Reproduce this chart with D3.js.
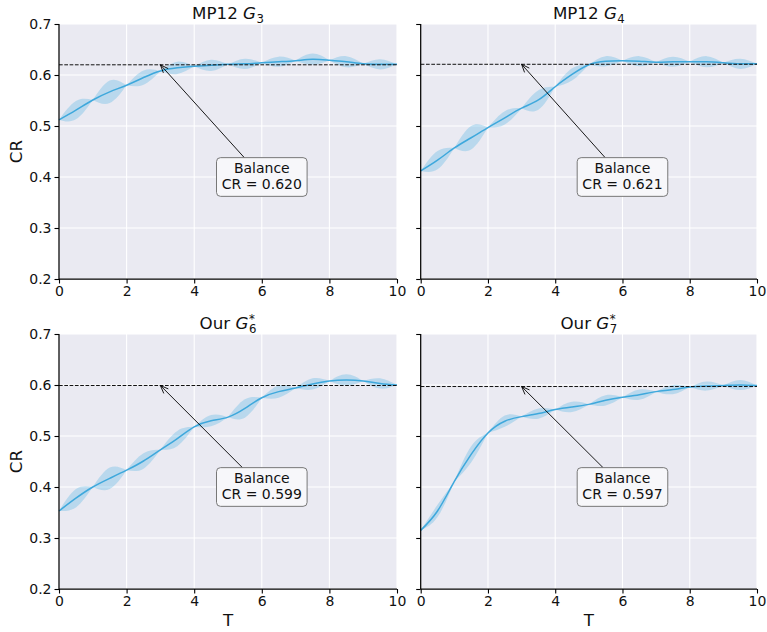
<!DOCTYPE html>
<html>
<head>
<meta charset="utf-8">
<script src="https://cdn.jsdelivr.net/npm/d3@7"></script>
<style>
  body { margin: 0; background: #ffffff; }
  svg { display: block; font-family: "DejaVu Sans", sans-serif; }
</style>
</head>
<body>
<script>
// Sample times (integer steps and half steps)
const T = [0, 0.5, 1, 1.5, 2, 2.5, 3, 3.5, 4, 4.5, 5, 5.5, 6, 6.5, 7, 7.5, 8, 8.5, 9, 9.5, 10];

// Mean CR per model at each sample time
const meanG3 = [0.512, 0.531, 0.551, 0.567, 0.580, 0.595, 0.608, 0.614, 0.617, 0.619, 0.621, 0.622, 0.624, 0.626, 0.628, 0.631, 0.629, 0.626, 0.622, 0.621, 0.621];
const meanG4 = [0.412, 0.433, 0.457, 0.477, 0.497, 0.516, 0.535, 0.551, 0.577, 0.601, 0.620, 0.627, 0.628, 0.627, 0.625, 0.626, 0.626, 0.626, 0.624, 0.622, 0.622];
const meanG6 = [0.353, 0.378, 0.400, 0.417, 0.433, 0.451, 0.473, 0.495, 0.518, 0.530, 0.537, 0.554, 0.575, 0.587, 0.594, 0.602, 0.608, 0.610, 0.608, 0.603, 0.600];
const meanG7 = [0.315, 0.353, 0.411, 0.464, 0.506, 0.529, 0.538, 0.544, 0.552, 0.557, 0.562, 0.570, 0.576, 0.581, 0.587, 0.591, 0.596, 0.598, 0.599, 0.600, 0.599];

// Half-width of the spread band in the middle of each unit step
const spreadG3 = [0.018, 0.022, 0.014, 0.012, 0.011, 0.010, 0.010, 0.011, 0.011, 0.010];
const spreadG4 = [0.018, 0.023, 0.013, 0.019, 0.012, 0.010, 0.010, 0.010, 0.011, 0.010];
const spreadG6 = [0.018, 0.021, 0.015, 0.015, 0.011, 0.018, 0.012, 0.011, 0.011, 0.010];
const spreadG7 = [0.012, 0.016, 0.011, 0.010, 0.010, 0.010, 0.010, 0.009, 0.009, 0.010];

// Balance level per model
const balance = [0.620, 0.621, 0.599, 0.597];

// Panel titles: prefix, italic symbol, superscript, subscript
const titlePrefix = ["MP12 ", "MP12 ", "Our ", "Our "];
const titleSymbol = ["G", "G", "G", "G"];
const titleSup = ["", "", "*", "*"];
const titleSub = ["3", "4", "6", "7"];

// Axis ticks
const xTicks = [0, 2, 4, 6, 8, 10];
const yTicks = [0.2, 0.3, 0.4, 0.5, 0.6, 0.7];

// Annotation placement (data coordinates)
const arrowTipT = 3;
const labelT = 6;
const labelCR = 0.40;

const means = [meanG3, meanG4, meanG6, meanG7];
const spreads = [spreadG3, spreadG4, spreadG6, spreadG7];

const W = 767, H = 632;
const svg = d3.select("body").append("svg").attr("width", W).attr("height", H);

const lineColor = "#3ea8dc";
const bandColor = "#4ab0e0";
const bg = "#eaeaf2";

const cols = [[59, 397], [420.7, 757]];
const rows = [[24, 279], [334, 589]];

for (let p = 0; p < 4; p++) {
  const col = p % 2, row = Math.floor(p / 2);
  const [x0, x1] = cols[col];
  const [y0, y1] = rows[row];
  const x = d3.scaleLinear().domain([0, 10]).range([x0, x1]);
  const y = d3.scaleLinear().domain([0.2, 0.7]).range([y1, y0]);
  const g = svg.append("g");

  // background
  g.append("rect").attr("x", x0).attr("y", y0).attr("width", x1 - x0).attr("height", y1 - y0).attr("fill", bg);

  // grid
  g.append("g").selectAll("line").data(xTicks).join("line")
    .attr("x1", d => x(d)).attr("x2", d => x(d)).attr("y1", y0).attr("y2", y1)
    .attr("stroke", "#fff").attr("stroke-width", 1.1);
  g.append("g").selectAll("line").data(yTicks).join("line")
    .attr("x1", x0).attr("x2", x1).attr("y1", d => y(d)).attr("y2", d => y(d))
    .attr("stroke", "#fff").attr("stroke-width", 1.1);

  const mean = means[p], spread = spreads[p];
  const pts = T.map((t, i) => ({ t, m: mean[i] }));

  // spread band, one lens per unit step
  const band = d3.area()
    .x(d => x(d.t))
    .y0(d => y(d.m - d.h))
    .y1(d => y(d.m + d.h))
    .curve(d3.curveNatural);
  const segs = spread.map((h, k) => [
    { t: T[2 * k], m: mean[2 * k], h: 0 },
    { t: T[2 * k + 1], m: mean[2 * k + 1], h: h },
    { t: T[2 * k + 2], m: mean[2 * k + 2], h: 0 }
  ]);
  g.append("g").selectAll("path").data(segs).join("path")
    .attr("d", band).attr("fill", bandColor).attr("fill-opacity", 0.3);

  // mean line
  g.append("path").datum(pts)
    .attr("d", d3.line().x(d => x(d.t)).y(d => y(d.m)).curve(d3.curveNatural))
    .attr("fill", "none").attr("stroke", lineColor).attr("stroke-width", 1.5);

  // balance reference
  g.append("line").attr("x1", x0).attr("x2", x1)
    .attr("y1", y(balance[p])).attr("y2", y(balance[p]))
    .attr("stroke", "#111").attr("stroke-width", 1).attr("stroke-dasharray", "3.7,1.6");

  // axes
  const xAxis = d3.axisBottom(x).tickValues(xTicks).tickSize(4.5).tickPadding(3).tickFormat(d3.format("d"));
  const ax = g.append("g").attr("transform", `translate(0,${y1})`).call(xAxis);
  const yAxis = d3.axisLeft(y).tickValues(yTicks).tickSize(4.5).tickPadding(3)
    .tickFormat(col === 0 ? d3.format(".1f") : () => "");
  const ay = g.append("g").attr("transform", `translate(${x0},0)`).call(yAxis);
  [ax, ay].forEach(a => {
    a.select(".domain").attr("stroke", "#000").attr("stroke-width", 1.25);
    a.selectAll(".tick line").attr("stroke", "#000").attr("stroke-width", 1.1);
    a.selectAll("text").attr("font-family", "DejaVu Sans").attr("font-size", 14).attr("fill", "#111");
  });
  ax.select(".domain").attr("d", `M${x0},0H${x1}`);
  ay.select(".domain").attr("d", `M0,${y0}V${y1}`);

  // axis labels
  if (col === 0) {
    g.append("text").attr("transform", `translate(22,${(y0 + y1) / 2}) rotate(-90)`)
      .attr("text-anchor", "middle").attr("font-size", 16.7).attr("fill", "#111").text("CR");
  }
  if (row === 1) {
    g.append("text").attr("x", (x0 + x1) / 2).attr("y", 626)
      .attr("text-anchor", "middle").attr("font-size", 16.7).attr("fill", "#111").text("T");
  }

  // title: prefix, italic symbol, then stacked superscript / subscript
  const base = y0 - 5;
  const probe = g.append("text").attr("font-size", 16.7);
  probe.append("tspan").text(titlePrefix[p]);
  probe.append("tspan").attr("font-style", "italic").text(titleSymbol[p]);
  const mainW = probe.node().getComputedTextLength();
  probe.remove();
  const subProbe = g.append("text").attr("font-size", 11.7).text(titleSub[p]);
  const subW = subProbe.node().getComputedTextLength();
  subProbe.remove();
  const totalW = mainW + 0.5 + subW;
  const tx = (x0 + x1) / 2 - totalW / 2;
  const title = g.append("text").attr("x", tx).attr("y", base).attr("font-size", 16.7).attr("fill", "#111");
  title.append("tspan").text(titlePrefix[p]);
  title.append("tspan").attr("font-style", "italic").text(titleSymbol[p]);
  if (titleSup[p]) {
    title.append("tspan").attr("x", tx + mainW + 0.5).attr("y", base - 6.5)
      .attr("font-size", 11.7).text(titleSup[p]);
  }
  title.append("tspan").attr("x", tx + mainW + 0.5).attr("y", base + 3.5)
    .attr("font-size", 11.7).text(titleSub[p]);

  // annotation
  const cx = x(labelT), cy = y(labelCR);
  const bw = 90.6, bh = 38.7;
  const tipX = x(arrowTipT), tipY = y(balance[p]);
  // where the arrow leaves the box
  const dx = tipX - cx, dy = tipY - cy;
  const s = Math.min((bw / 2) / Math.abs(dx), (bh / 2) / Math.abs(dy));
  const sx = cx + dx * s, sy = cy + dy * s;
  g.append("line").attr("x1", sx).attr("y1", sy).attr("x2", tipX).attr("y2", tipY)
    .attr("stroke", "#000").attr("stroke-width", 0.9);
  const ang = Math.atan2(tipY - sy, tipX - sx);
  const hl = 8, hw = 3.2;
  const bx = tipX - hl * Math.cos(ang), by = tipY - hl * Math.sin(ang);
  const px = -Math.sin(ang) * hw, py = Math.cos(ang) * hw;
  g.append("path").attr("d", `M${bx + px},${by + py}L${tipX},${tipY}L${bx - px},${by - py}`)
    .attr("fill", "none").attr("stroke", "#000").attr("stroke-width", 0.9);

  g.append("rect").attr("x", cx - bw / 2).attr("y", cy - bh / 2).attr("width", bw).attr("height", bh)
    .attr("rx", 4).attr("fill", "#f7f7fa").attr("stroke", "#777").attr("stroke-width", 1);
  g.append("text").attr("x", cx).attr("y", cy - 4).attr("text-anchor", "middle")
    .attr("font-size", 14).attr("fill", "#111").text("Balance");
  g.append("text").attr("x", cx).attr("y", cy + 12).attr("text-anchor", "middle")
    .attr("font-size", 14).attr("fill", "#111").text(`CR = ${balance[p].toFixed(3)}`);
}
</script>
</body>
</html>
